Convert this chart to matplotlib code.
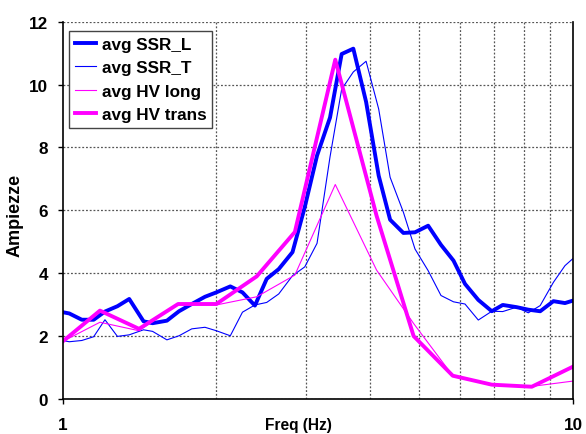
import matplotlib
matplotlib.use("Agg")
import matplotlib.pyplot as plt
from matplotlib.ticker import FixedLocator, NullFormatter

plt.rcParams['font.family'] = ['Liberation Sans', 'DejaVu Sans']
plt.rcParams['font.weight'] = 'bold'

# SSR frequencies (Hz)
freq_ssr = [1.00, 1.03, 1.09, 1.15, 1.21, 1.28, 1.35, 1.44, 1.50, 1.60, 1.69,
            1.79, 1.90, 2.00, 2.13, 2.25, 2.38, 2.51, 2.65, 2.82, 2.98, 3.15,
            3.34, 3.52, 3.71, 3.93, 4.16, 4.38, 4.65, 4.90, 5.20, 5.51, 5.83,
            6.14, 6.52, 6.93, 7.28, 7.75, 8.17, 8.62, 9.15, 9.64, 10.0]
ssr_l = [2.76, 2.72, 2.52, 2.52, 2.78, 2.95, 3.18, 2.47, 2.41, 2.49, 2.79,
         3.02, 3.25, 3.39, 3.58, 3.39, 2.97, 3.82, 4.13, 4.67, 6.10, 7.74,
         8.95, 10.97, 11.14, 9.45, 7.10, 5.70, 5.28, 5.30, 5.51, 4.90, 4.40,
         3.66, 3.15, 2.79, 2.99, 2.92, 2.84, 2.79, 3.11, 3.05, 3.13]
ssr_t = [1.86, 1.82, 1.86, 1.98, 2.52, 1.99, 2.04, 2.20, 2.15, 1.88, 2.01,
         2.23, 2.28, 2.17, 2.01, 2.76, 2.99, 3.07, 3.34, 3.92, 4.20, 4.95,
         7.70, 9.85, 10.40, 10.74, 9.22, 7.05, 5.94, 4.77, 4.08, 3.29, 3.09,
         3.02, 2.51, 2.79, 2.78, 2.92, 2.74, 2.97, 3.71, 4.24, 4.47]

# HV frequencies (Hz)
freq_hv = [1.00, 1.183, 1.411, 1.683, 2.00, 2.40, 2.85, 3.42, 4.12, 4.87,
           5.81, 6.93, 8.30, 10.0]
hv_long = [1.83, 2.44, 2.17, 3.02, 2.99, 3.25, 3.94, 6.82, 4.10, 2.40,
           0.74, 0.45, 0.40, 0.57]
hv_trans = [1.83, 2.81, 2.23, 3.02, 3.02, 3.90, 5.31, 10.79, 5.83, 2.00,
            0.74, 0.455, 0.39, 1.03]

fig = plt.figure(figsize=(5.86, 4.35), dpi=100)
ax = fig.add_axes([0.107, 0.0805, 0.871, 0.8675])

ax.plot(freq_ssr, ssr_l, color='#0000FF', lw=2.8, label='avg SSR_L')
ax.plot(freq_ssr, ssr_t, color='#0000FF', lw=0.8, label='avg SSR_T')
ax.plot(freq_hv, hv_long, color='#FF00FF', lw=0.8, label='avg HV long')
ax.plot(freq_hv, hv_trans, color='#FF00FF', lw=2.8, label='avg HV trans')

ax.set_xscale('log')
ax.set_xlim(1, 10)
ax.set_ylim(0, 12)
ax.set_xticks([1, 10])
ax.set_xticklabels(['1', '10'])
ax.xaxis.set_minor_locator(FixedLocator([2, 3, 4, 5, 6, 7, 8, 9]))
ax.xaxis.set_minor_formatter(NullFormatter())
ax.set_yticks([0, 2, 4, 6, 8, 10, 12])

ax.tick_params(axis='both', which='major', direction='out', length=3.9,
               width=1, labelsize=12.3, pad=6.5)
ax.tick_params(axis='x', which='major', pad=9)
ax.tick_params(axis='x', which='minor', length=0)

grid_kw = dict(color='#555555', linestyle=(0, (1.5, 1.5)), linewidth=0.9)
ax.grid(True, which='minor', axis='x', **grid_kw)
ax.grid(True, which='major', axis='y', **grid_kw)
ax.set_axisbelow(True)

ax.spines['top'].set_visible(False)
for s in ('left', 'bottom', 'right'):
    ax.spines[s].set_linewidth(1.2)

ax.set_xlabel('Freq (Hz)', fontsize=11.2, fontweight='bold')
ax.xaxis.set_label_coords(0.462, -0.047)
ax.set_ylabel('Ampiezze', fontsize=13, fontweight='bold')
ax.yaxis.set_label_coords(-0.076, 0.49)

leg = ax.legend(loc='upper left', bbox_to_anchor=(0.013, 0.9746),
                prop={'size': 12.3, 'weight': 'bold'}, handlelength=1.23,
                handletextpad=0.33, labelspacing=0.49, borderpad=0.33,
                fancybox=False, framealpha=1, edgecolor='#444444',
                borderaxespad=0)
leg.get_frame().set_linewidth(1.0)

fig.savefig('out.png', dpi=100)
